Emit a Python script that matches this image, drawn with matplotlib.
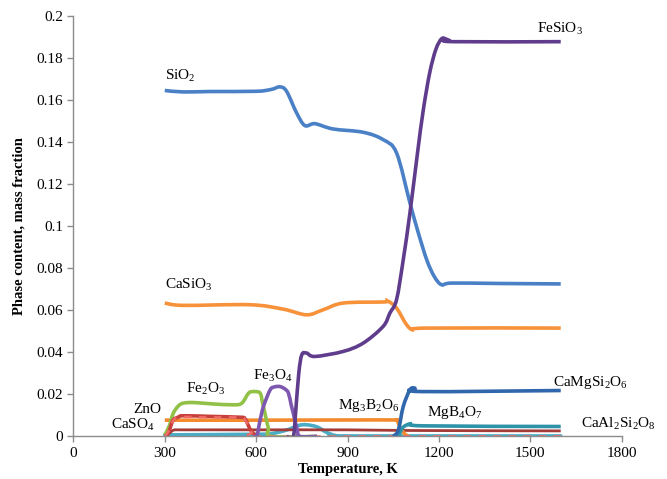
import matplotlib
matplotlib.use("Agg")

import matplotlib.pyplot as plt
from matplotlib.path import Path
from matplotlib.patches import PathPatch
from matplotlib.ticker import FuncFormatter, MultipleLocator

# --- data (temperature K, mass fraction) ---
t_sio2 = [300, 360, 450, 600, 650, 678, 700, 733, 760, 793, 852, 952, 1017, 1061,
          1105, 1130, 1160, 1185, 1209, 1242, 1400, 1600]
sio2 = [0.1645, 0.1638, 0.1640, 0.1641, 0.1650, 0.1662, 0.1641, 0.1538, 0.1478, 0.1487,
        0.1462, 0.1446, 0.1411, 0.1348, 0.1110, 0.0980, 0.0840, 0.0760, 0.0721, 0.0729,
        0.0727, 0.0725]

t_casio3 = [300, 361, 580, 689, 766, 820, 886, 1017, 1034, 1061, 1094, 1116, 1160, 1600]
casio3 = [0.0634, 0.0623, 0.0626, 0.0605, 0.0578, 0.0602, 0.0634, 0.0639, 0.0642,
          0.0610, 0.0531, 0.0507, 0.0515, 0.0515]

t_fesio3 = [700, 722, 730, 740, 750, 766, 793, 886, 952, 1017, 1039, 1061, 1083, 1105,
            1130, 1149, 1170, 1190, 1209, 1226, 1247, 1600]
fesio3 = [0.0, 0.0, 0.012, 0.030, 0.0388, 0.0396, 0.0380, 0.0404, 0.0444, 0.0523,
          0.0586, 0.0650, 0.0840, 0.1063, 0.1350, 0.1554, 0.1730, 0.1840, 0.1891,
          0.1888, 0.1877, 0.1877]

t_fe3o4 = [590, 602, 612, 624, 646, 660, 678, 695, 706, 715, 722, 735, 744, 800]
fe3o4 = [0.0, 0.0, 0.007, 0.0142, 0.0221, 0.0235, 0.0237, 0.0225, 0.0206, 0.015,
         0.011, 0.003, 0.0, 0.0]

t_fe2o3 = [300, 315, 328, 345, 361, 394, 450, 525, 553, 575, 591, 613, 621, 629, 640,
           651, 800]
fe2o3 = [0.0007, 0.005, 0.011, 0.0145, 0.0158, 0.0161, 0.0155, 0.0150, 0.0158, 0.0205,
         0.0213, 0.0206, 0.016, 0.011, 0.004, 0.0, 0.0]

t_zno = [300, 310, 320, 328, 345, 361, 450, 547, 563, 575, 585, 602]
zno = [0.0, 0.001, 0.005, 0.0079, 0.0092, 0.0098, 0.0095, 0.0091, 0.0085, 0.005,
       0.0023, 0.0]

t_dash = [300, 315, 330, 361, 450, 547, 563, 585, 602, 1000, 1620]
dash = [0.0, 0.003, 0.008, 0.0092, 0.0090, 0.0090, 0.008, 0.002, 0.0, 0.0, 0.0]

t_darkred = [300, 315, 330, 360, 580, 900, 1100, 1600]
darkred = [0.0, 0.0015, 0.0030, 0.0031, 0.0031, 0.0031, 0.0028, 0.0026]

t_mg3b2o6 = [300, 600, 900, 1050, 1063, 1073, 1089, 1100]
mg3b2o6 = [0.0077, 0.0077, 0.0078, 0.0078, 0.0075, 0.0040, 0.0010, 0.0]

t_caso4 = [300, 600, 650, 700, 740, 766, 800, 830, 860, 900, 1600]
caso4 = [0.0007, 0.0010, 0.0013, 0.0030, 0.0052, 0.0055, 0.0045, 0.0020, 0.0004,
         0.0002, 0.0002]

t_mgb4o7 = [1050, 1067, 1083, 1110, 1150, 1600]
mgb4o7 = [0.0, 0.0005, 0.0044, 0.0060, 0.0050, 0.0047]

t_camgsi2o6 = [1050, 1067, 1083, 1105, 1121, 1143, 1600]
camgsi2o6 = [0.0, 0.003, 0.0142, 0.0221, 0.0229, 0.0213, 0.0218]

# label text and anchor (x, y, ha)
labels = [
    ("SiO$_\\mathregular{2}$", 300, 0.1714, "left"),
    ("CaSiO$_\\mathregular{3}$", 300, 0.0721, "left"),
    ("FeSiO$_\\mathregular{3}$", 1521, 0.194, "left"),
    ("Fe$_\\mathregular{2}$O$_\\mathregular{3}$", 370, 0.0226, "left"),
    ("Fe$_\\mathregular{3}$O$_\\mathregular{4}$", 589, 0.0288, "left"),
    ("ZnO", 290, 0.0126, "right"),
    ("CaSO$_\\mathregular{4}$", 268, 0.0055, "right"),
    ("Mg$_\\mathregular{3}$B$_\\mathregular{2}$O$_\\mathregular{6}$", 869, 0.0145, "left"),
    ("MgB$_\\mathregular{4}$O$_\\mathregular{7}$", 1160, 0.0112, "left"),
    ("CaMgSi$_\\mathregular{2}$O$_\\mathregular{6}$", 1573, 0.0255, "left"),
    ("CaAl$_\\mathregular{2}$Si$_\\mathregular{2}$O$_\\mathregular{8}$", 1665, 0.0060, "left"),
]


def smooth_line(ax, xs, ys, **kw):
    # Excel-style smoothed line: Catmull-Rom segments drawn as cubic Beziers
    n = len(xs)
    verts = [(xs[0], ys[0])]
    codes = [Path.MOVETO]
    for i in range(n - 1):
        x0, y0 = (xs[i - 1], ys[i - 1]) if i > 0 else (xs[i], ys[i])
        x1, y1 = xs[i], ys[i]
        x2, y2 = xs[i + 1], ys[i + 1]
        x3, y3 = (xs[i + 2], ys[i + 2]) if i + 2 < n else (x2, y2)
        c1 = (x1 + (x2 - x0) / 6.0, y1 + (y2 - y0) / 6.0)
        c2 = (x2 - (x3 - x1) / 6.0, y2 - (y3 - y1) / 6.0)
        verts += [c1, c2, (x2, y2)]
        codes += [Path.CURVE4] * 3
    ax.add_patch(PathPatch(Path(verts, codes), fill=False, **kw))


plt.rcParams["font.family"] = ["Liberation Serif", "DejaVu Serif"]
plt.rcParams["mathtext.fontset"] = "custom"
plt.rcParams["mathtext.rm"] = "Liberation Serif"

fig = plt.figure(figsize=(6.67, 4.79), dpi=100)
ax = fig.add_axes([0.110, 0.089, 0.822, 0.878])

lw = 2.6
smooth_line(ax, t_caso4, caso4, edgecolor="#4BACC6", lw=lw, capstyle="round")
smooth_line(ax, t_darkred, darkred, edgecolor="#A33B38", lw=2.0)
smooth_line(ax, t_mg3b2o6, mg3b2o6, edgecolor="#F38B2E", lw=lw)
smooth_line(ax, t_fe2o3, fe2o3, edgecolor="#92C147", lw=lw)
smooth_line(ax, t_zno, zno, edgecolor="#C8403C", lw=lw)
smooth_line(ax, t_dash, dash, edgecolor="#F06A66", lw=1.8, ls=(0, (3, 3)))
smooth_line(ax, t_fe3o4, fe3o4, edgecolor="#7D57B0", lw=lw)
smooth_line(ax, t_mgb4o7, mgb4o7, edgecolor="#2E93A8", lw=lw)
smooth_line(ax, t_camgsi2o6, camgsi2o6, edgecolor="#2F66AC", lw=lw)
smooth_line(ax, t_casio3, casio3, edgecolor="#F7923A", lw=lw)
smooth_line(ax, t_sio2, sio2, edgecolor="#4A80C6", lw=lw)
smooth_line(ax, t_fesio3, fesio3, edgecolor="#5F3D8C", lw=lw)

for txt, x, y, ha in labels:
    ax.text(x, y, txt, fontsize=11, ha=ha, va="center")

ax.set_xlim(0, 1800)
ax.set_ylim(0, 0.2)
ax.xaxis.set_major_locator(MultipleLocator(300))
ax.yaxis.set_major_locator(MultipleLocator(0.02))
ax.yaxis.set_major_formatter(FuncFormatter(lambda v, p: "%g" % round(v, 4)))

for s in ("top", "right"):
    ax.spines[s].set_visible(False)
for s in ("left", "bottom"):
    ax.spines[s].set_color("#8C8C8C")
    ax.spines[s].set_linewidth(1.0)
ax.tick_params(direction="out", length=4, width=1.0, color="#8C8C8C", labelsize=11)

ax.set_xlabel("Temperature, K", fontsize=10.5, fontweight="bold", labelpad=2)
ax.set_ylabel("Phase content, mass fraction", fontsize=10.5, fontweight="bold", labelpad=8)

fig.savefig("out.png", dpi=100)
plt.close(fig)
